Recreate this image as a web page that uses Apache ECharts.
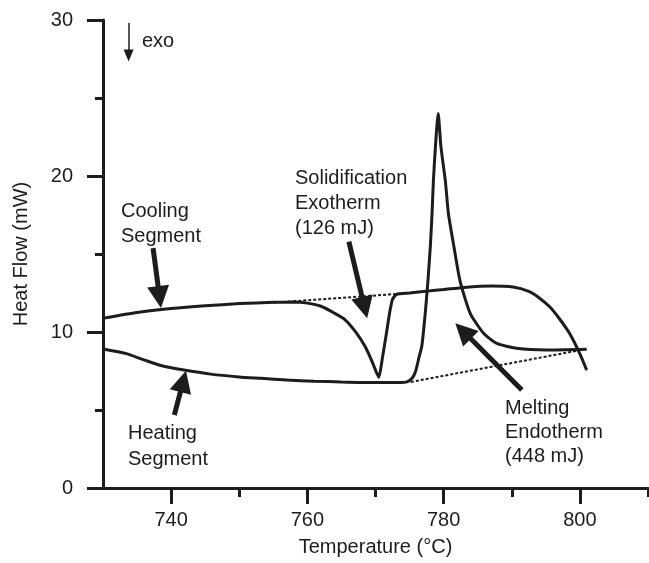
<!DOCTYPE html>
<html>
<head>
<meta charset="utf-8">
<script src="https://cdn.jsdelivr.net/npm/echarts@6/dist/echarts.min.js"></script>
<style>
  html, body { margin: 0; padding: 0; background: #fff; }
  #chart { width: 649px; height: 563px; }
</style>
</head>
<body>
<div id="chart"></div>
<script>
// heating scan [temperature °C, heat flow mW]
const heating = [
  [730.2, 8.9], [733.3, 8.63], [736.1, 8.2], [738.5, 7.85], [741.9, 7.56],
  [745.8, 7.3], [750, 7.12], [753.2, 7.03], [757, 6.92], [761, 6.85],
  [765, 6.8], [770, 6.76], [773.5, 6.76], [774.6, 6.8], [775.4, 7.05],
  [775.9, 7.5], [776.4, 8.4], [776.8, 9.1], [777.3, 11.2], [777.7, 13.3],
  [778.05, 15.5], [778.3, 17.6], [778.5, 19.7], [778.8, 21.9], [779.2, 24.0],
  [779.6, 21.9], [780.25, 19.7], [780.7, 17.6], [781.5, 15.5], [782.4, 13.3],
  [783.9, 11.2], [785.9, 9.9], [787.8, 9.27], [790.7, 8.96], [795.1, 8.85],
  [801, 8.9]
]

// cooling scan
const cooling = [
  [730.2, 10.9], [735, 11.25], [740, 11.5], [745, 11.68], [750, 11.82],
  [755, 11.9], [758, 11.92], [760, 11.85], [762, 11.65], [764, 11.2],
  [765.5, 10.8], [767, 10.05], [768.5, 9.05], [769.5, 8.1], [770.1, 7.45],
  [770.5, 7.1], [771, 8.3], [771.6, 9.9], [772.1, 11.3], [772.5, 12.1],
  [773.1, 12.42], [775, 12.5], [777.6, 12.62], [780, 12.72], [783, 12.86],
  [787, 12.95], [790.2, 12.88], [792.5, 12.6], [794, 12.2], [795.6, 11.6],
  [797, 10.85], [798.5, 9.9], [800, 8.6], [801, 7.56]
]

// interpolated peak baselines (dashed)
const coolingBase = [[755, 11.88], [773.5, 12.45]]
const heatingBase = [[775.2, 6.8], [800.2, 8.85]]

// annotation arrows: [tail, head]
const arrows = [
  [[737.35, 15.38], [738.3, 12.24]],   // cooling segment
  [[740.47, 4.68], [741.77, 6.84]],    // heating segment
  [[766.09, 15.79], [768.4, 11.56]],   // solidification
  [[791.48, 6.28], [782.86, 10.06]]    // melting
]
const exoArrow = [[733.76, 29.81], [733.76, 27.72]]

const xMajor = [740, 760, 780, 800]
const xMinor = [750, 770, 790, 810]

const ink = '#1c1c1c'
const font = 'Liberation Sans, Arial, Helvetica, sans-serif'

const chart = echarts.init(document.getElementById('chart'), null, { renderer: 'canvas' })

const label = (x, y, text, lh) => ({
  type: 'text',
  x: x,
  y: y,
  style: { text: text, font: '20px ' + font, fill: ink, lineHeight: lh, textVerticalAlign: 'middle' }
})

const option = {
  animation: false,
  grid: { left: 103, right: 1, top: 20, bottom: 75 },
  xAxis: [
    {
      type: 'value',
      min: 730,
      max: 810,
      interval: 10,
      name: 'Temperature (°C)',
      nameLocation: 'middle',
      nameGap: 49,
      nameTextStyle: { fontFamily: font, fontSize: 20, color: ink },
      axisLine: { show: true, lineStyle: { color: ink, width: 3 } },
      axisTick: { show: true, length: 16, lineStyle: { color: ink, width: 3 }, customValues: xMajor },
      axisLabel: { margin: 22, fontFamily: font, fontSize: 20, color: ink, customValues: xMajor },
      splitLine: { show: false }
    },
    {
      type: 'value',
      position: 'bottom',
      min: 730,
      max: 810,
      interval: 10,
      axisLine: { show: false },
      axisTick: { show: true, length: 9, lineStyle: { color: ink, width: 3 }, customValues: xMinor },
      axisLabel: { show: false },
      splitLine: { show: false }
    }
  ],
  yAxis: {
    type: 'value',
    min: 0,
    max: 30,
    interval: 10,
    name: 'Heat Flow (mW)',
    nameLocation: 'middle',
    nameGap: 72,
    nameTextStyle: { fontFamily: font, fontSize: 20, color: ink },
    axisLine: { show: true, lineStyle: { color: ink, width: 3 } },
    axisTick: { show: true, length: 16, lineStyle: { color: ink, width: 3 } },
    minorTick: { show: true, splitNumber: 2, length: 8, lineStyle: { color: ink, width: 3 } },
    axisLabel: { margin: 30, fontFamily: font, fontSize: 20, color: ink },
    splitLine: { show: false },
    minorSplitLine: { show: false }
  },
  series: [
    {
      name: 'Heating',
      type: 'line',
      data: heating,
      showSymbol: false,
      smooth: 0.2,
      lineStyle: { color: ink, width: 3 }
    },
    {
      name: 'Cooling',
      type: 'line',
      data: cooling,
      showSymbol: false,
      smooth: 0.2,
      lineStyle: { color: ink, width: 3 }
    },
    {
      type: 'line',
      data: coolingBase,
      showSymbol: false,
      lineStyle: { color: ink, width: 2, type: [3, 2] }
    },
    {
      type: 'line',
      data: heatingBase,
      showSymbol: false,
      lineStyle: { color: ink, width: 2, type: [3, 2] }
    },
    {
      type: 'line',
      data: [],
      markLine: {
        silent: true,
        symbol: ['none', 'triangle'],
        symbolSize: [22, 22],
        label: { show: false },
        lineStyle: { color: ink, width: 5, type: 'solid' },
        data: arrows.map(a => [{ coord: a[0] }, { coord: a[1] }])
      }
    },
    {
      type: 'line',
      data: [],
      markLine: {
        silent: true,
        symbol: ['none', 'triangle'],
        symbolSize: [10, 12],
        label: { show: false },
        lineStyle: { color: ink, width: 1.5, type: 'solid' },
        data: [[{ coord: exoArrow[0] }, { coord: exoArrow[1] }]]
      }
    }
  ],
  graphic: [
    label(142, 41, 'exo', 20),
    label(121, 224, 'Cooling\nSegment', 25),
    label(128, 446, 'Heating\nSegment', 26),
    label(295, 203, 'Solidification\nExotherm\n(126 mJ)', 25),
    label(505, 432, 'Melting\nEndotherm\n(448 mJ)', 24)
  ]
}

chart.setOption(option)
</script>
</body>
</html>
